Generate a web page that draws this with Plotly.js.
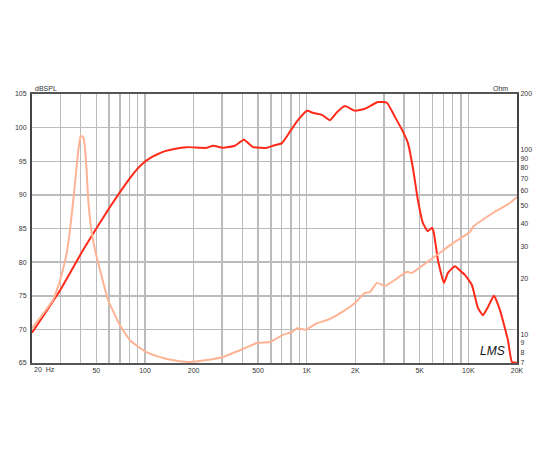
<!DOCTYPE html>
<html>
<head>
<meta charset="utf-8">
<script src="https://cdn.plot.ly/plotly-3.0.1.min.js"></script>
<style>html,body{margin:0;padding:0;background:#fff;}#chart{width:550px;height:450px;}</style>
</head>
<body>
<div id="chart"></div>
<script>
// SPL response (Hz, dB SPL)
var splFreq = [20, 30, 41.4, 50, 60.7, 70.0, 80.7, 90, 97.2, 108, 118.6, 133, 148.9, 181.8, 218.8, 241.8, 263.4, 303.6, 360, 409, 465, 514, 568, 619, 703, 788, 883, 1004, 1094, 1243, 1393, 1539, 1725, 1989, 2294, 2760, 3136, 3515, 3884, 4231, 4542, 4878, 5238, 5624, 5954, 6126, 6486, 7065, 7478, 8260, 9124, 9524, 10521, 11462, 12306, 13213, 14394, 15680, 17572, 18596, 20000];
var splDb = [69.5, 75.9, 81.8, 85.0, 88.2, 90.4, 92.5, 93.9, 94.7, 95.5, 96.0, 96.5, 96.8, 97.1, 97.0, 97.0, 97.3, 97.0, 97.3, 98.2, 97.1, 97.0, 97.0, 97.3, 97.7, 99.4, 101.1, 102.5, 102.2, 101.9, 101.1, 102.3, 103.2, 102.5, 102.8, 103.8, 103.7, 101.6, 99.7, 97.7, 94.0, 89.2, 85.8, 84.6, 85.1, 84.3, 80.3, 76.9, 78.4, 79.4, 78.5, 78.1, 76.6, 73.2, 72.1, 73.3, 75.0, 72.9, 68.4, 65.15, 65.05];
// Impedance (Hz, Ohm)
var impFreq = [20, 24, 27.0, 29.5, 31.1, 32.9, 34.5, 35.9, 37.3, 38.5, 39.3, 40.0, 41.0, 41.8, 42.6, 43.5, 44.4, 46.5, 49.1, 52.7, 59.0, 65, 70.0, 80.7, 100, 120, 136.7, 160, 189.7, 241.8, 303.6, 403.6, 492.6, 593, 713, 811, 871, 990, 1158, 1354, 1653, 1989, 2294, 2462, 2720, 3048, 3515, 4170, 4477, 5238, 6395, 8030, 10226, 10674, 14192, 18074, 20000];
var impOhm = [10.8, 13.3, 15.4, 19.0, 22.5, 28.0, 38.0, 52.0, 72.0, 96.0, 110.0, 118.0, 118.0, 114.0, 100.0, 78.0, 56.0, 37.0, 28.6, 22.3, 15.4, 12.8, 11.2, 9.3, 8.1, 7.6, 7.36, 7.18, 7.09, 7.27, 7.55, 8.34, 8.98, 9.10, 9.93, 10.3, 10.8, 10.6, 11.5, 12.0, 13.2, 14.8, 16.75, 16.95, 19.0, 18.3, 19.7, 21.8, 21.5, 23.7, 26.9, 31.2, 35.8, 38.1, 45.4, 51.4, 55.4];

// Axis ticks
var xGridVals = [20,30,40,50,60,70,80,90,100,200,300,400,500,600,700,800,900,1000,2000,3000,4000,5000,6000,7000,8000,9000,10000,20000];
var xLabelMap = {50:"50",100:"100",200:"200",500:"500",1000:"1K",2000:"2K",5000:"5K",10000:"10K",20000:"20K"};
var xGridText = xGridVals.map(function(v){ return xLabelMap[v] || ""; });
var dbTicks = [65,70,75,80,85,90,95,100,105];
var ohmTicks = [7,8,9,10,20,30,40,50,60,70,80,90,100,200];

var tickFont = {family:"Liberation Sans, Arial, sans-serif", size:7, color:"#333"};

var traces = [
  {x: impFreq, y: impOhm, yaxis:"y2", type:"scatter", mode:"lines", line:{color:"#ffb395", width:2, shape:"spline", smoothing:0.4}, hoverinfo:"none"},
  {x: splFreq, y: splDb, type:"scatter", mode:"lines", line:{color:"#ff2a1a", width:2, shape:"spline", smoothing:0.4}, hoverinfo:"none"}
];

var layout = {
  width:550, height:450,
  margin:{l:32, r:33, t:94, b:87},
  paper_bgcolor:"#fff", plot_bgcolor:"#fff",
  showlegend:false,
  xaxis:{type:"log", range:[Math.log10(20), Math.log10(20000)], tickmode:"array", tickvals:xGridVals, ticktext:xGridText,
         showgrid:true, gridcolor:"#bcbcbc", gridwidth:1.5, showline:true, linecolor:"#555", linewidth:2, mirror:true,
         ticks:"", tickfont:tickFont, zeroline:false, fixedrange:true},
  yaxis:{range:[65,105], tickmode:"array", tickvals:dbTicks, showgrid:true, gridcolor:"#bcbcbc", gridwidth:1.5,
         showline:true, linecolor:"#444", linewidth:2, ticks:"", tickfont:tickFont, zeroline:false, ticklabelstandoff:2},
  yaxis2:{type:"log", range:[Math.log10(7), Math.log10(200)], overlaying:"y", side:"right", tickmode:"array", tickvals:ohmTicks,
          ticktext:ohmTicks.map(String), showgrid:false, showline:true, linecolor:"#444", linewidth:2, ticks:"", tickfont:tickFont, zeroline:false},
  annotations:[
    {text:"dBSPL", xref:"paper", yref:"paper", x:0.002, y:1.0, xanchor:"left", yanchor:"bottom", showarrow:false, font:tickFont},
    {text:"Ohm", xref:"paper", yref:"paper", x:0.985, y:1.0, xanchor:"right", yanchor:"bottom", showarrow:false, font:tickFont},
    {text:"20  Hz", xref:"x", yref:"paper", x:Math.log10(20), y:0, xanchor:"left", yanchor:"top", showarrow:false, font:tickFont, yshift:-1},
    {text:"<i>LMS</i>", xref:"paper", yref:"paper", x:0.98, y:0.01, xanchor:"right", yanchor:"bottom", showarrow:false,
     font:{family:"Liberation Sans, sans-serif", size:12, color:"#111"}}
  ]
};

Plotly.newPlot("chart", traces, layout, {staticPlot:true, displayModeBar:false});
</script>
</body>
</html>
